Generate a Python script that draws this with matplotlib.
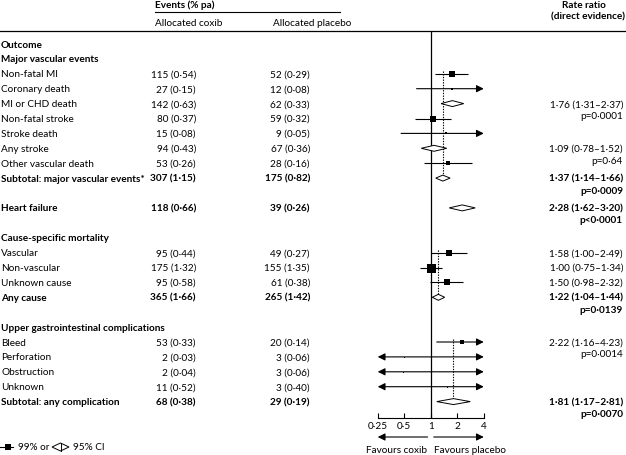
import numpy as np
import matplotlib
matplotlib.use("Agg")
from matplotlib import pyplot as plt
from matplotlib.lines import Line2D
from matplotlib.patches import Polygon
from matplotlib.transforms import blended_transform_factory

plt.rcParams['font.family'] = ['Lato', 'DejaVu Sans']
plt.rcParams['font.size'] = 7.2

# ---- data -------------------------------------------------------------
labels = ["Outcome", "Major vascular events", "Non-fatal MI", "Coronary death",
          "MI or CHD death", "Non-fatal stroke", "Stroke death", "Any stroke",
          "Other vascular death", "Subtotal: major vascular events*", "",
          "Heart failure", "", "Cause-specific mortality", "Vascular",
          "Non-vascular", "Unknown cause", "Any cause", "",
          "Upper gastrointestinal complications", "Bleed", "Perforation",
          "Obstruction", "Unknown", "Subtotal: any complication"]
coxib = ["", "", "115 (0·54)", "27 (0·15)", "142 (0·63)", "80 (0·37)", "15 (0·08)",
         "94 (0·43)", "53 (0·26)", "307 (1·15)", "", "118 (0·66)", "", "",
         "95 (0·44)", "175 (1·32)", "95 (0·58)", "365 (1·66)", "", "",
         "53 (0·33)", "2 (0·03)", "2 (0·04)", "11 (0·52)", "68 (0·38)"]
placebo = ["", "", "52 (0·29)", "12 (0·08)", "62 (0·33)", "59 (0·32)", "9 (0·05)",
           "67 (0·36)", "28 (0·16)", "175 (0·82)", "", "39 (0·26)", "", "",
           "49 (0·27)", "155 (1·35)", "61 (0·38)", "265 (1·42)", "", "",
           "20 (0·14)", "3 (0·06)", "3 (0·06)", "3 (0·40)", "29 (0·19)"]
bold_rows = [0, 1, 9, 11, 13, 17, 19, 24]

# squares with 99% CI (None = off scale -> arrow)
sq_rows = [2, 3, 5, 6, 8, 14, 15, 16, 20, 21, 22, 23]
sq_est = [1.73, 1.73, 1.05, 1.48, 1.56, 1.60, 1.00, 1.52, 2.25, 0.50, 0.49, 1.52]
sq_lo = [1.11, 0.69, 0.66, 0.46, 0.83, 1.00, 0.75, 0.97, 1.17, None, None, None]
sq_hi = [2.63, None, 1.69, None, 2.92, 2.56, 1.33, 2.31, None, None, None, None]
sq_px = [6, 2.5, 5.5, 2, 4, 5.5, 9, 6, 3.8, 1, 1, 1]

# diamonds with 95% CI
dm_rows = [4, 7, 9, 11, 17, 24]
dm_est = [1.76, 1.09, 1.37, 2.28, 1.22, 1.81]
dm_lo = [1.31, 0.78, 1.14, 1.62, 1.04, 1.17]
dm_hi = [2.37, 1.52, 1.66, 3.20, 1.44, 2.81]

# dotted reference lines per group: (first row, subtotal row, value)
ref_start = [2, 14, 20]
ref_end = [9, 17, 24]
ref_val = [1.37, 1.22, 1.81]

rr_rows = [4, 7, 9, 11, 14, 15, 16, 17, 20, 24]
rr_text = ["1·76 (1·31–2·37)", "1·09 (0·78–1·52)", "1·37 (1·14–1·66)",
           "2·28 (1·62–3·20)", "1·58 (1·00–2·49)", "1·00 (0·75–1·34)",
           "1·50 (0·98–2·32)", "1·22 (1·04–1·44)", "2·22 (1·16–4·23)",
           "1·81 (1·17–2·81)"]
p_rows = [4, 7, 9, 11, 17, 20, 24]
p_text = ["p=0·0001", "p=0·64", "p=0·0009", "p<0·0001", "p=0·0139",
          "p=0·0014", "p=0·0070"]
rr_bold = [9, 11, 17, 24]

xticks = [0.25, 0.5, 1, 2, 4]
xticklabels = ["0·25", "0·5", "1", "2", "4"]

# ---- layout (pixels of a 626x456 canvas) ------------------------------
W, H = 626, 456
def fx(px): return px / W
def fy(py): return 1 - py / H

row0, drow = 45, 14.9          # pixel y of row 0 and row spacing
top_px, axis_px = 32, 419
fig = plt.figure(figsize=(W / 100, H / 100), dpi=100)
ax = fig.add_axes([fx(377.75), fy(axis_px), (483.75 - 377.75) / W, (axis_px - top_px) / H])
ax.set_xscale('log', base=2)
ax.set_xlim(0.25, 4)
ax.set_ylim((axis_px - row0) / drow, (top_px - row0) / drow)
for s in ['top', 'left', 'right']:
    ax.spines[s].set_visible(False)
ax.spines['bottom'].set_linewidth(0.8)
ax.set_yticks([])
ax.set_xticks(xticks)
ax.set_xticklabels(xticklabels, fontsize=7.2)
ax.minorticks_off()
ax.tick_params(axis='x', direction='in', length=3.5, width=0.8, pad=2)
ax.patch.set_alpha(0)

ax.axvline(1, color='black', lw=0.9)

head = 'head_length=0.6,head_width=0.3'
arrow_kw = dict(color='black', lw=0.8, shrinkA=0, shrinkB=0)
for r, e, lo, hi, px in zip(sq_rows, sq_est, sq_lo, sq_hi, sq_px):
    a = 0.25 if lo is None else lo
    b = 4 if hi is None else hi
    if lo is None and hi is None:
        ax.annotate('', xy=(4, r), xytext=(0.25, r), annotation_clip=False,
                    arrowprops=dict(arrowstyle='<|-|>,' + head, **arrow_kw))
    elif hi is None:
        ax.annotate('', xy=(4, r), xytext=(a, r), annotation_clip=False,
                    arrowprops=dict(arrowstyle='-|>,' + head, **arrow_kw))
    else:
        ax.plot([a, b], [r, r], color='black', lw=0.8, solid_capstyle='butt')
    ax.plot(e, r, marker='s', color='black', ms=px * 0.72, mew=0, clip_on=False)

hd = 0.2
for r, e, lo, hi in zip(dm_rows, dm_est, dm_lo, dm_hi):
    ax.add_patch(Polygon([(lo, r), (e, r - hd), (hi, r), (e, r + hd)], closed=True,
                         facecolor='white', edgecolor='black', lw=0.7, zorder=3))

for s, e, v in zip(ref_start, ref_end, ref_val):
    ax.plot([v, v], [s - 0.2, e - hd], color='black', lw=0.8, ls=(0, (1.2, 1.2)), zorder=2)

# favours arrows under the axis
ax.annotate('', xy=(0.25, fy(438)), xytext=(0.92, fy(438)), xycoords=('data', 'figure fraction'),
            textcoords=('data', 'figure fraction'), annotation_clip=False,
            arrowprops=dict(arrowstyle='-|>,' + head, **arrow_kw))
ax.annotate('', xy=(4, fy(438)), xytext=(1.08, fy(438)), xycoords=('data', 'figure fraction'),
            textcoords=('data', 'figure fraction'), annotation_clip=False,
            arrowprops=dict(arrowstyle='-|>,' + head, **arrow_kw))
fig.text(fx(427), fy(451), "Favours coxib", ha='right', va='center')
fig.text(fx(434), fy(451), "Favours placebo", ha='left', va='center')

# ---- text columns -----------------------------------------------------
tr = blended_transform_factory(fig.transFigure, ax.transData)
for i, (lab, c, p) in enumerate(zip(labels, coxib, placebo)):
    w = 'bold' if i in bold_rows else 'normal'
    fig.text(fx(1), i, lab, transform=tr, va='center', ha='left', fontweight=w)
    fig.text(fx(196), i, c, transform=tr, va='center', ha='right', fontweight=w)
    fig.text(fx(310), i, p, transform=tr, va='center', ha='right', fontweight=w)
for r, t in zip(rr_rows, rr_text):
    fig.text(fx(623), r, t, transform=tr, va='center', ha='right',
             fontweight='bold' if r in rr_bold else 'normal')
for r, t in zip(p_rows, p_text):
    fig.text(fx(623), r + 0.8, t, transform=tr, va='center', ha='right',
             fontweight='bold' if r in rr_bold else 'normal')

# headers
fig.text(fx(155), fy(5), "Events (% pa)", va='center', ha='left', fontweight='bold')
fig.add_artist(Line2D([fx(155), fx(340)], [fy(13), fy(13)], color='black', lw=0.8))
fig.text(fx(155), fy(23.5), "Allocated coxib", va='center', ha='left')
fig.text(fx(273), fy(23.5), "Allocated placebo", va='center', ha='left')
fig.text(fx(562), fy(5), "Rate ratio", va='center', ha='left', fontweight='bold')
fig.text(fx(625), fy(17), "(direct evidence)", va='center', ha='right', fontweight='bold')
fig.add_artist(Line2D([0, 1], [fy(top_px), fy(top_px)], color='black', lw=0.9))

# legend key
fig.add_artist(Line2D([fx(0), fx(13)], [fy(448), fy(448)], color='black', lw=0.8))
fig.add_artist(Line2D([fx(8)], [fy(448)], marker='s', color='black', ms=5, mew=0))
fig.text(fx(18), fy(448), "99% or", va='center', ha='left')
fig.add_artist(Polygon([(fx(52), fy(448)), (fx(60.5), fy(444)), (fx(69), fy(448)), (fx(60.5), fy(452))],
                       closed=True, facecolor='white', edgecolor='black', lw=0.7,
                       transform=fig.transFigure))
fig.add_artist(Line2D([fx(60.5), fx(60.5)], [fy(444), fy(452)], color='black', lw=0.7))
fig.text(fx(73), fy(448), "95% CI", va='center', ha='left')

fig.savefig("out.png", dpi=100)
